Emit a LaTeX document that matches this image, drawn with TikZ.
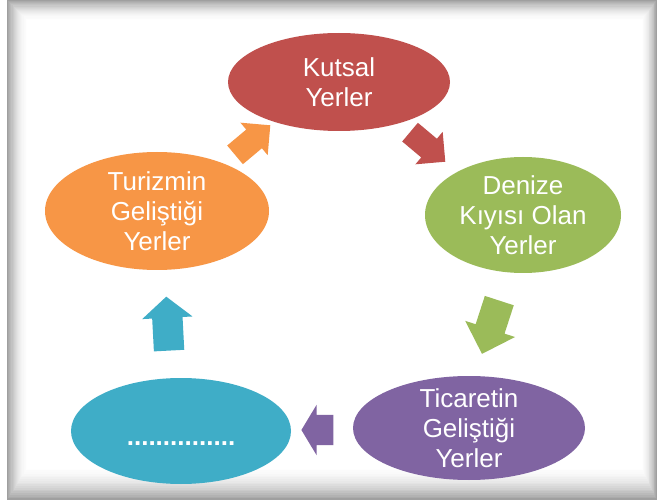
\documentclass[tikz,border=0pt]{standalone}
\usepackage{fontspec}
\setmainfont{Liberation Sans}
\usetikzlibrary{shapes.geometric,shapes.arrows}
\definecolor{kirmizi}{HTML}{C0504D}
\definecolor{yesil}{HTML}{9BBB59}
\definecolor{mor}{HTML}{8064A2}
\definecolor{mavi}{HTML}{3FADC7}
\definecolor{turuncu}{HTML}{F79646}
\tikzset{
  yer/.style={ellipse, fill=#1, text=white, align=center, inner xsep=0pt,
    inner ysep=-10pt, font=\fontsize{26}{30}\selectfont},
  ok/.style={single arrow, fill=#1, inner xsep=0pt, inner ysep=12pt,
    minimum height=46pt, single arrow head extend=9pt}
}

\begin{document}
\begin{tikzpicture}[x=1pt, y=-1pt]
  \useasboundingbox (0,0) rectangle (657,500);
  \fill[white] (0,0) rectangle (657,500);
  % frame
  \foreach \n [evaluate=\n as \p using {int(75*(1-\n/20)*(1-\n/20))}] in {0,...,20}
    \fill[gray!\p!white] (7+1.1*\n,1.1*\n) rectangle (657-0.85*\n,500-1.75*\n);

  \node[yer=kirmizi, minimum width=222pt, minimum height=98pt] (kutsal) at (339,82)
    {Kutsal\\Yerler};
  \node[yer=yesil, minimum width=196pt, minimum height=116pt] (denize) at (523,215)
    {Denize\\Kıyısı Olan\\Yerler};
  \node[yer=mor, minimum width=232pt, minimum height=104pt] (ticaret) at (469,428)
    {Ticaretin\\Geliştiği\\Yerler};
  \node[yer=mavi, minimum width=220pt, minimum height=106pt] (bos) at (181,431)
    {\raisebox{-14pt}[0pt][0pt]{\bfseries...............}};
  \node[yer=turuncu, minimum width=224pt, minimum height=118pt] (turizm) at (157,211)
    {Turizmin\\Geliştiği\\Yerler};

  \node[ok=turuncu, rotate=40] (ok1) at (248,144) {};
  \node[ok=kirmizi, rotate=-40] (ok2) at (423,143) {};
  \node[ok=yesil, rotate=-108, minimum height=56pt, inner ysep=15pt,
    single arrow head extend=11pt] (ok3) at (493,320) {};
  \node[ok=mor, rotate=180, minimum height=32pt, inner ysep=15pt,
    single arrow head extend=10pt, single arrow tip angle=118] (ok4) at (322,430) {};
  \node[ok=mavi, rotate=93, minimum height=54pt, inner ysep=15pt,
    single arrow head extend=10pt, single arrow tip angle=100] (ok5) at (168,330) {};
\end{tikzpicture}
\end{document}
